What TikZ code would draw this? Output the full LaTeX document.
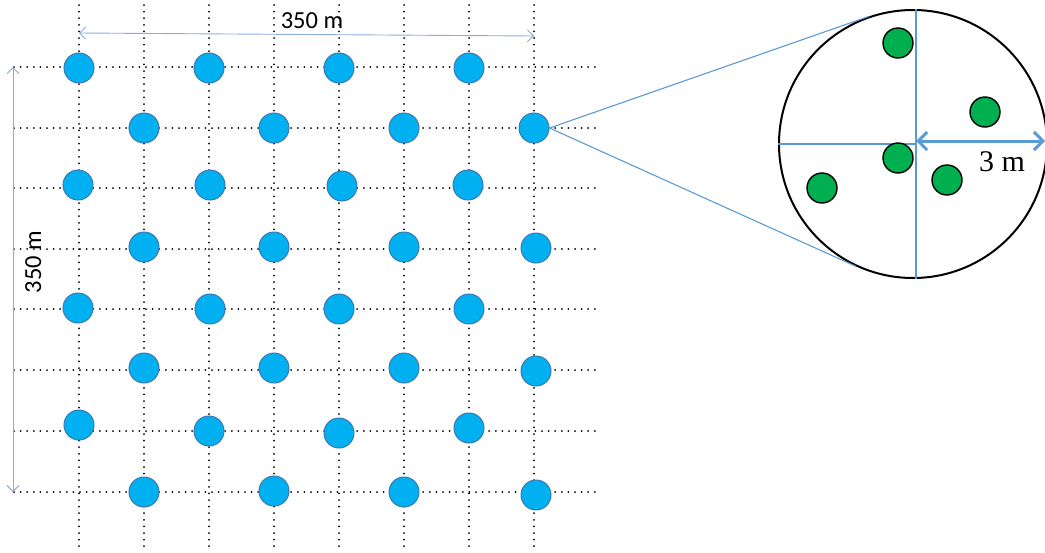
\documentclass[tikz,border=0pt]{standalone}
\usepackage{fontspec}
\setmainfont{Liberation Serif}
\newfontfamily\calib{Carlito}
\usetikzlibrary{arrows.meta}
\definecolor{bluefill}{HTML}{00B0F0}
\definecolor{blueedge}{HTML}{3C78B4}
\definecolor{greenfill}{HTML}{00B050}
\definecolor{linkblue}{HTML}{5B9BD5}
\definecolor{dimblue}{HTML}{8EAADB}
\begin{document}
\begin{tikzpicture}[x=1pt,y=-1pt,
  gridline/.style={line width=2pt, dash pattern=on 0pt off 6.6pt, line cap=round, black},
  tree/.style={circle, fill=bluefill, draw=blueedge, line width=1pt, minimum size=30pt, inner sep=0pt},
  gtree/.style={circle, fill=greenfill, draw=black, line width=1.4pt, minimum size=30pt, inner sep=0pt},
  dimline/.style={draw=dimblue, line width=0.9pt, {Straight Barb[length=6pt,width=12pt]}-{Straight Barb[length=6pt,width=12pt]}},
  link/.style={draw=linkblue, line width=1.1pt},
  lbl/.style={font=\calib\fontsize{24.5}{28}\selectfont, inner sep=0pt},
]
\useasboundingbox (0,0) rectangle (1045,552);
% dotted grid
\foreach \x in {79,144,209,274,339,404,469,534}
  \draw[gridline] (\x,5) -- (\x,550);
\foreach \y in {67,128,188,249,309,370,431,492}
  \draw[gridline] (14,\y) -- (597,\y);
% dimension arrows
\coordinate (tl) at (79,33);
\coordinate (tr) at (534,36);
\draw[dimline] (tl) -- (tr);
\node[lbl, anchor=base] (toplbl) at (312,28) {350 m};
\coordinate (vt) at (13,67);
\coordinate (vb) at (13,492);
\draw[dimline] (vt) -- (vb);
\node[lbl, rotate=90, anchor=base] (sidelbl) at (41,262) {350 m};
% blue trees
\foreach \n/\x/\y in {
  00/79/68, 02/209/68, 04/339/68, 06/469/68,
  11/144/128, 13/274/128, 15/404/128, 17/534/128,
  20/78/185, 22/210/185, 24/342/186, 26/468/185,
  31/144/247, 33/274/247, 35/404/247, 37/536/248,
  40/78/308, 42/210/309, 44/339/309, 46/469/309,
  51/144/368, 53/274/368, 55/404/368, 57/536/371,
  60/79/425, 62/209/431, 64/339/433, 66/469/428,
  71/144/492, 73/274/491, 75/404/492, 77/536/495}
  \node[tree] (b\n) at (\x,\y) {};
% zoom circle
\node[circle, draw=black, line width=2pt, fill=white, minimum size=268pt, inner sep=0pt] (zc) at (913,144) {};
\draw[link] (b17.east) -- (zc.109.5);
\draw[link] (b17.east) -- (zc.245.5);
\coordinate (vx) at (916,144);
\draw[link] (zc.north -| vx) -- (zc.south -| vx);
\draw[link] (zc.west) -- (vx);
% green trees
\node[gtree] (g1) at (898,43) {};
\node[gtree] (g2) at (985,112) {};
\node[gtree] (g3) at (898,158) {};
\node[gtree] (g4) at (947,180) {};
\node[gtree] (g5) at (822,188) {};
% radius arrow
\coordinate (ra) at (916,141);
\coordinate (rb) at (1045,141);
\draw[draw=linkblue, line width=3pt, {Straight Barb[length=9pt,width=18pt]}-{Straight Barb[length=9pt,width=18pt]}] (ra) -- (rb);
\node[font=\fontsize{30}{34}\selectfont, anchor=base, inner sep=0pt] (rlbl) at (1002,171) {3 m};
\end{tikzpicture}
\end{document}
